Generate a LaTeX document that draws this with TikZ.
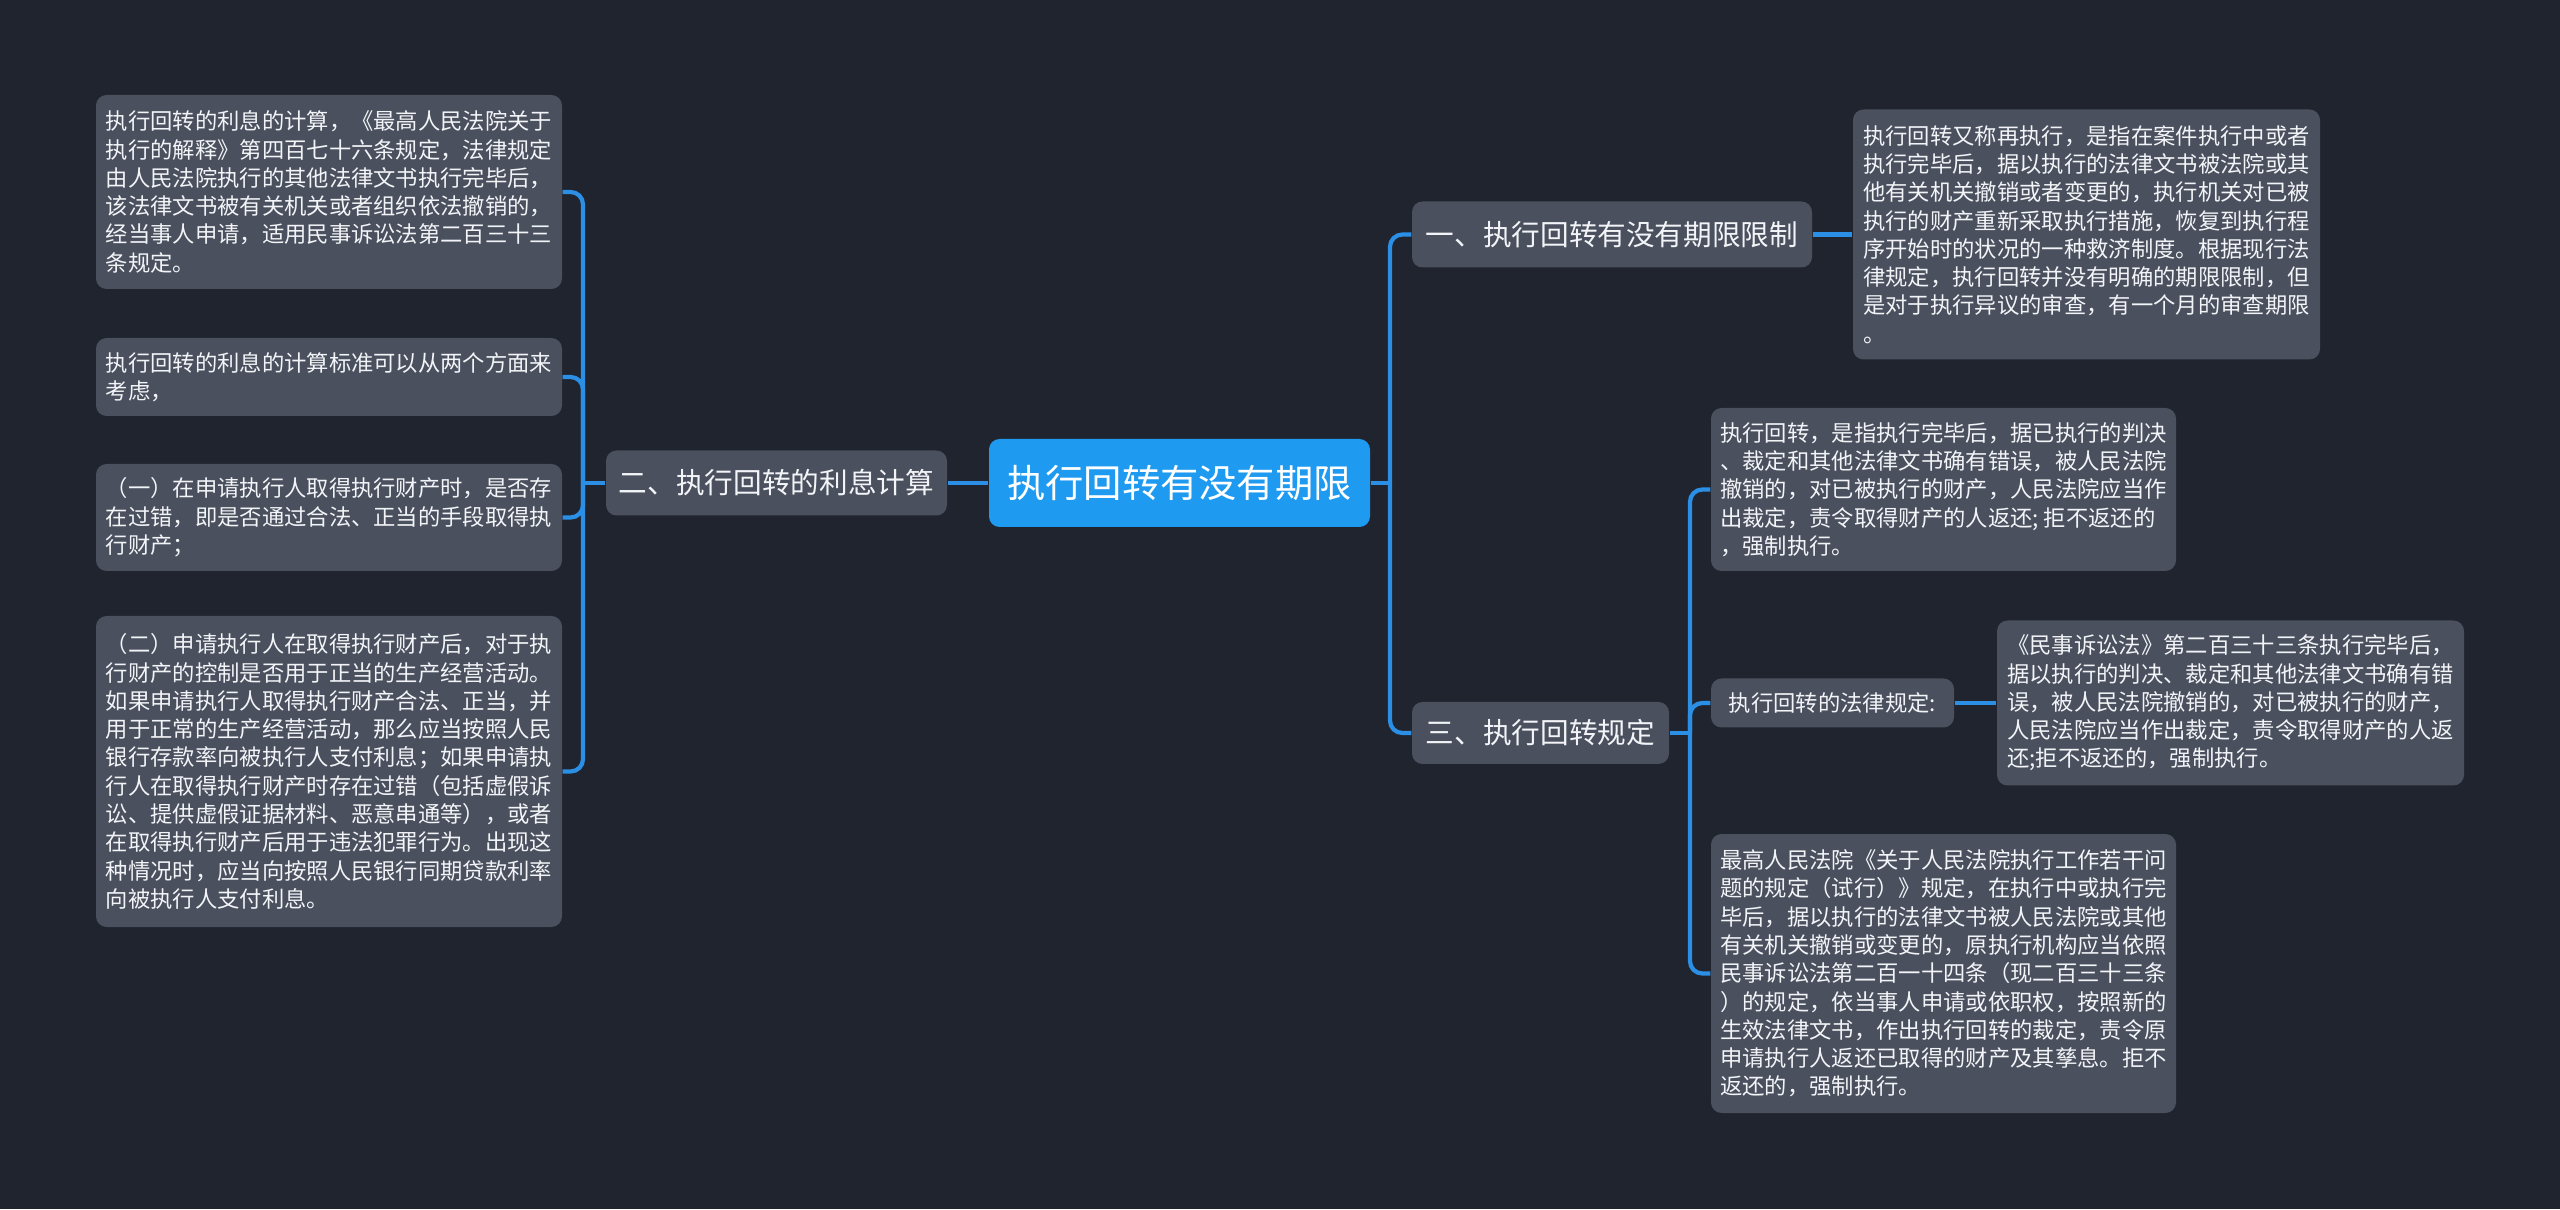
\documentclass[tikz,border=0pt]{standalone}
\usepackage{fontspec}
\setmainfont{Noto Sans CJK SC}
\usepackage{xcolor}
\usepackage{tikz}
\usetikzlibrary{positioning, calc}
\definecolor{bg}{HTML}{20242E}
\definecolor{box}{HTML}{4A505E}
\definecolor{rootblue}{HTML}{1E9AF0}
\definecolor{wire}{HTML}{2B8FE6}
\definecolor{ink}{HTML}{F2F4F7}

\begin{document}
\begin{tikzpicture}[
  leaf/.style={rectangle, rounded corners=3pt, fill=box, text=ink, align=left, inner sep=0pt, font=\fontsize{6.35}{8.05}\selectfont},
  sub/.style={rectangle, rounded corners=3pt, fill=box, text=ink, inner sep=0pt, font=\fontsize{8.15}{10}\selectfont},
  topic/.style={rectangle, rounded corners=3pt, fill=rootblue, text=white, inner sep=0pt, font=\fontsize{10.9}{13}\selectfont},
  link/.style={draw=wire, line width=1.2pt, rounded corners=3.5pt}
]
  \fill[bg] (0,0) rectangle (25.60,12.09);
  \useasboundingbox (0,0) rectangle (25.60,12.09);
  % centre
  \node[topic, minimum width=3.81cm, minimum height=0.88cm] (root) at (11.795,7.26) {执行回转有没有期限};
  % left side
  \node[sub, minimum width=3.41cm, minimum height=0.65cm] (lb) at (7.765,7.26) {二、执行回转的利息计算};
  \node[leaf, minimum width=4.66cm, minimum height=1.94cm] (l1) at (3.29,10.17)
    {执行回转的利息的计算，《最高人民法院关于\\
     执行的解释》第四百七十六条规定，法律规定\\
     由人民法院执行的其他法律文书执行完毕后，\\
     该法律文书被有关机关或者组织依法撤销的，\\
     经当事人申请，适用民事诉讼法第二百三十三\\
     条规定。};
  \node[leaf, minimum width=4.66cm, minimum height=0.78cm] (l2) at (3.29,8.32)
    {执行回转的利息的计算标准可以从两个方面来\\
     考虑，};
  \node[leaf, minimum width=4.66cm, minimum height=1.07cm] (l3) at (3.29,6.915)
    {（一）在申请执行人取得执行财产时，是否存\\
     在过错，即是否通过合法、正当的手段取得执\\
     行财产；};
  \node[leaf, minimum width=4.66cm, minimum height=3.11cm] (l4) at (3.29,4.375)
    {（二）申请执行人在取得执行财产后，对于执\\
     行财产的控制是否用于正当的生产经营活动。\\
     如果申请执行人取得执行财产合法、正当，并\\
     用于正常的生产经营活动，那么应当按照人民\\
     银行存款率向被执行人支付利息；如果申请执\\
     行人在取得执行财产时存在过错（包括虚假诉\\
     讼、提供虚假证据材料、恶意串通等），或者\\
     在取得执行财产后用于违法犯罪行为。出现这\\
     种情况时，应当向按照人民银行同期贷款利率\\
     向被执行人支付利息。};
  % right side
  \node[sub, minimum width=4.00cm, minimum height=0.66cm] (b1) at (16.12,9.745) {一、执行回转有没有期限限制};
  \node[leaf, minimum width=4.67cm, minimum height=2.50cm] (r1) at (20.865,9.745)
    {执行回转又称再执行，是指在案件执行中或者\\
     执行完毕后，据以执行的法律文书被法院或其\\
     他有关机关撤销或者变更的，执行机关对已被\\
     执行的财产重新采取执行措施，恢复到执行程\\
     序开始时的状况的一种救济制度。根据现行法\\
     律规定，执行回转并没有明确的期限限制，但\\
     是对于执行异议的审查，有一个月的审查期限\\
     。};
  \node[sub, minimum width=2.57cm, minimum height=0.62cm] (b3) at (15.405,4.76) {三、执行回转规定};
  \node[leaf, minimum width=4.65cm, minimum height=1.63cm] (r2a) at (19.435,7.195)
    {执行回转，是指执行完毕后，据已执行的判决\\
     、裁定和其他法律文书确有错误，被人民法院\\
     撤销的，对已被执行的财产，人民法院应当作\\
     出裁定，责令取得财产的人返还; 拒不返还的\\
     ，强制执行。};
  \node[leaf, minimum width=2.43cm, minimum height=0.49cm] (r2b) at (18.325,5.06) {执行回转的法律规定:};
  \node[leaf, minimum width=4.67cm, minimum height=1.65cm] (r2s) at (22.305,5.06)
    {《民事诉讼法》第二百三十三条执行完毕后，\\
     据以执行的判决、裁定和其他法律文书确有错\\
     误，被人民法院撤销的，对已被执行的财产，\\
     人民法院应当作出裁定，责令取得财产的人返\\
     还;拒不返还的，强制执行。};
  \node[leaf, minimum width=4.65cm, minimum height=2.79cm] (r2c) at (19.435,2.355)
    {最高人民法院《关于人民法院执行工作若干问\\
     题的规定（试行）》规定，在执行中或执行完\\
     毕后，据以执行的法律文书被人民法院或其他\\
     有关机关撤销或变更的，原执行机构应当依照\\
     民事诉讼法第二百一十四条（现二百三十三条\\
     ）的规定，依当事人申请或依职权，按照新的\\
     生效法律文书，作出执行回转的裁定，责令原\\
     申请执行人返还已取得的财产及其孳息。拒不\\
     返还的，强制执行。};
  % connectors
  \coordinate (lj) at (5.83,7.26);
  \coordinate (rj) at (13.90,7.26);
  \coordinate (tj) at (16.90,4.76);
  \draw[link] (root.west) -- (lb.east);
  \draw[link] (lb.west) -- (lj);
  \foreach \n in {l1,l2,l3,l4} \draw[link] (lj) |- (\n.east);
  \draw[link] (root.east) -- (rj);
  \foreach \n in {b1,b3} \draw[link] (rj) |- (\n.west);
  \draw[link] (b1.east) -- (r1.west);
  \draw[link] (b3.east) -- (tj);
  \foreach \n in {r2a,r2b,r2c} \draw[link] (tj) |- (\n.west);
  \draw[link] (r2b.east) -- (r2s.west);
\end{tikzpicture}
\end{document}
